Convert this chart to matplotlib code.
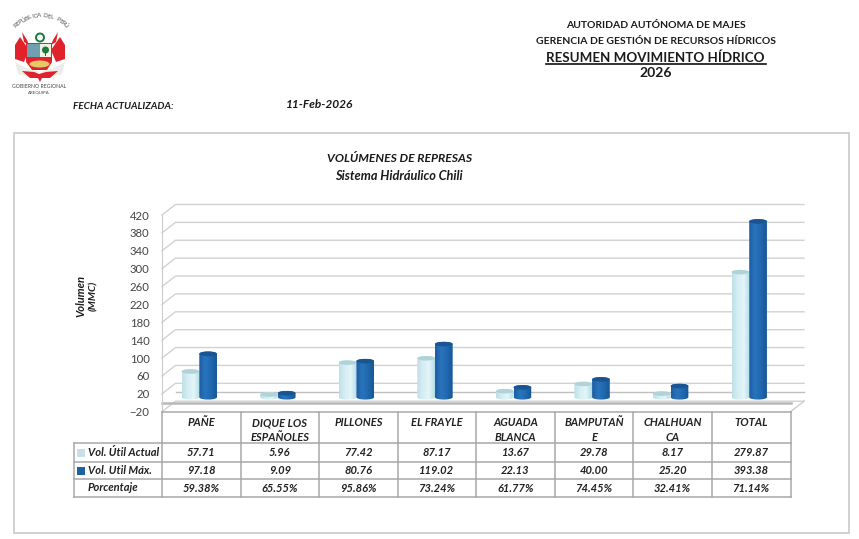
import numpy as np
import matplotlib
matplotlib.use('Agg')
import matplotlib.pyplot as plt
from matplotlib.patches import Polygon, Ellipse, PathPatch, Rectangle, Circle
from matplotlib.path import Path
from matplotlib.transforms import ScaledTranslation
from matplotlib.colors import LinearSegmentedColormap

plt.rcParams['font.family'] = ['Lato', 'DejaVu Sans']

categories = ['PAÑE', 'DIQUE LOS\nESPAÑOLES', 'PILLONES', 'EL FRAYLE', 'AGUADA\nBLANCA',
              'BAMPUTAÑ\nE', 'CHALHUAN\nCA', 'TOTAL']
vol_actual = [57.71, 5.96, 77.42, 87.17, 13.67, 29.78, 8.17, 279.87]
vol_max = [97.18, 9.09, 80.76, 119.02, 22.13, 40.00, 25.20, 393.38]
porcentaje = ['59.38%', '65.55%', '95.86%', '73.24%', '61.77%', '74.45%', '32.41%', '71.14%']
yticks = list(range(-20, 421, 40))

W, H = 859, 539
fig = plt.figure(figsize=(W / 100, H / 100), dpi=100)

# page overlay in pixel coordinates, for everything that is not the plot
page = fig.add_axes([0, 0, 1, 1], zorder=3)
page.set_xlim(0, W)
page.set_ylim(H, 0)
page.axis('off')
page.patch.set_alpha(0)

# plot area: front plane of the 3D box
x0, x1, y_top, y_bot = 162, 790.5, 215, 411.7
ax = fig.add_axes([x0 / W, 1 - y_bot / H, (x1 - x0) / W, (y_bot - y_top) / H], zorder=1)
ax.patch.set_alpha(0)
n = len(categories)
px_x = (x1 - x0) / n
px_y = (y_bot - y_top) / 440
depth_x = 13.5 / px_x
depth_y = 10.5 / px_y

for s in ['top', 'right', 'bottom']:
    ax.spines[s].set_visible(False)
ax.spines['left'].set_color('#cccccc')
ax.set_xticks([])
ax.set_yticks(yticks)
ax.tick_params(axis='y', length=0, pad=9, labelsize=8.2, labelcolor='#444444')

# back wall grid
for v in yticks:
    ax.plot([0, depth_x, n + depth_x], [v, v + depth_y, v + depth_y], color='#d2d2d2', lw=1.0,
            clip_on=False, zorder=1)
ax.plot([depth_x, n + depth_x], [depth_y, depth_y], color='#c0c0c0', lw=1.0, clip_on=False, zorder=1)
# floor
ax.plot([0, n], [0, 0], color='#b8b8b8', lw=1.8, clip_on=False, zorder=1)
ax.plot([n, n + depth_x], [-20, -20 + depth_y], color='#cccccc', lw=1.0, clip_on=False, zorder=1)

# cylinders
light = LinearSegmentedColormap.from_list('l', ['#bfe0e8', '#d6eef3', '#e4f5f8', '#b2dde6'])
dark = LinearSegmentedColormap.from_list('d', ['#1b5ea6', '#2a74ba', '#2068b0', '#175796'])
shift = ax.transData + ScaledTranslation(-2 / 100, 5.5 / 100, fig.dpi_scale_trans)
bw = 17.7 / px_x
eh = 2.3 / px_y


def cylinder(xl, value, cmap, top_color, z):
    t = np.linspace(0, np.pi, 30)
    xs = xl + bw / 2 + bw / 2 * np.cos(t)
    top = np.column_stack([xs, value + eh * np.sin(t)])
    bot = np.column_stack([xs[::-1], -eh * np.sin(t)])
    path = Path(np.vstack([top, bot, top[:1]]))
    body = PathPatch(path, transform=shift, fc='none', ec='none', zorder=z)
    ax.add_patch(body)
    grad = np.linspace(0, 1, 64).reshape(1, -1)
    im = ax.imshow(grad, cmap=cmap, extent=[xl, xl + bw, -eh, value + eh], aspect='auto',
                   interpolation='bilinear', transform=shift, zorder=z)
    im.set_clip_path(body)
    ax.add_patch(Ellipse((xl + bw / 2, value), bw, 2 * eh, transform=shift, fc=top_color, ec='none',
                         zorder=z + 0.1))


for i in range(n):
    c = i + 0.5
    cylinder(c - bw, vol_actual[i], light, '#b0d3da', 3)
    cylinder(c, vol_max[i], dark, '#195593', 4)
ax.set_xlim(0, n)
ax.set_ylim(-20, 420)

# frame around the chart
page.add_patch(Rectangle((14, 133), 835, 400, fc='none', ec='#cacaca', lw=1.2))

# table
tc = '#a8a8a8'
rows = [411.7, 443, 461.7, 479.3, 497]
col_x = [x0 + px_x * i for i in range(n + 1)]
page.plot([x0, x1], [rows[0], rows[0]], color=tc, lw=1.1)
for y in rows[1:]:
    page.plot([74, x1], [y, y], color=tc, lw=1.1)
for x in col_x:
    page.plot([x, x], [rows[0], rows[-1]], color=tc, lw=1.1)
page.plot([74, 74], [rows[1], rows[-1]], color=tc, lw=1.1)

cell = dict(ha='center', va='center', fontsize=8, fontweight='bold', style='italic', color='#222222')
for i in range(n):
    c = col_x[i] + px_x / 2
    parts = categories[i].split('\n')
    for j, p in enumerate(parts):
        page.text(c, 422.5 + 15 * j, p, **cell)
    page.text(c, 452.5, f'{vol_actual[i]:.2f}', **cell)
    page.text(c, 470.5, f'{vol_max[i]:.2f}', **cell)
    page.text(c, 488.5, porcentaje[i], **cell)

lab = dict(ha='left', va='center', fontsize=8, fontweight='bold', style='italic', color='#222222')
page.text(87.5, 452.5, 'Vol. Útil Actual', **lab)
page.text(87.5, 470, 'Vol. Util Máx.', **lab)
page.text(87.5, 487.5, 'Porcentaje', **lab)
page.add_patch(Rectangle((77, 449), 8, 8, fc='#c7dfe8', ec='none'))
page.add_patch(Rectangle((77, 466.5), 8, 8, fc='#1d639f', ec='none'))

# headers
hd = dict(ha='center', va='center', fontweight='bold', color='#1a1a1a')
page.text(656, 25, 'AUTORIDAD AUTÓNOMA DE MAJES', fontsize=7.45, **hd)
page.text(656.5, 41, 'GERENCIA DE GESTIÓN DE RECURSOS HÍDRICOS', fontsize=7.45, **hd)
page.text(655.5, 57.5, 'RESUMEN MOVIMIENTO HÍDRICO', fontsize=9.65, **hd)
page.plot([546, 766], [64, 64], color='#111111', lw=1.2)
page.text(656, 73, '2026', fontsize=10, **hd)
it = dict(va='center', fontweight='bold', style='italic', color='#1a1a1a')
page.text(73, 106.5, 'FECHA ACTUALIZADA:', fontsize=7.2, ha='left', **it)
page.text(286, 105, '11-Feb-2026', fontsize=8.6, ha='left', **it)
page.text(399.5, 158.5, 'VOLÚMENES DE REPRESAS', fontsize=8.75, ha='center', **it)
page.text(399, 176, 'Sistema Hidráulico Chili', fontsize=9.2, ha='center', **it)
page.text(81, 296, 'Volumen', fontsize=8, rotation=90, ha='center', **it)
page.text(94, 296, '(MMC)', fontsize=7.5, rotation=90, ha='center', **it)

# coat of arms, rough shapes
red = '#e0232b'
page.add_patch(Polygon([[15, 62], [18, 74], [34, 78], [39, 72], [26, 68]], fc='#ececea', ec='none'))
page.add_patch(Polygon([[65, 62], [62, 74], [46, 78], [41, 72], [54, 68]], fc='#ececea', ec='none'))
page.add_patch(Polygon([[20, 37], [15, 45], [15, 59], [24, 62], [29, 50]], fc=red, ec='none'))
page.add_patch(Polygon([[60, 37], [65, 45], [65, 59], [56, 62], [51, 50]], fc=red, ec='none'))
page.add_patch(Polygon([[22, 32], [27, 40], [29, 45], [24, 42]], fc=red, ec='none'))
page.add_patch(Polygon([[58, 32], [53, 40], [51, 45], [56, 42]], fc=red, ec='none'))
page.add_patch(Polygon([[22, 71], [34, 72], [39, 74], [46, 72], [58, 71], [50, 78], [42, 78], [40, 82], [38, 78], [30, 78]],
                       fc=red, ec='none'))
page.add_patch(Polygon([[26, 43], [52, 43], [52, 62], [47, 70], [32, 70], [26, 62]], fc=red, ec='none'))
page.add_patch(Rectangle((27, 44), 13, 13, fc='#6f9fb0', ec='none'))
page.add_patch(Rectangle((40, 44), 11, 13, fc='#f3f1e4', ec='none'))
page.add_patch(Circle((45.5, 50), 3.5, fc='#1e7a3c', ec='none'))
page.add_patch(Rectangle((44.8, 52), 1.4, 4, fc='#6b4a1e', ec='none'))
page.add_patch(Ellipse((39.5, 64), 20, 7, fc='#e9c66a', ec='none'))
page.add_patch(Circle((40, 37.5), 4, fc='none', ec='#1e7a3c', lw=1.4))

# arc text of the arms
arc_text = 'REPÚBLICA DEL PERÚ'
cx, cy, r = 40.5, 51.6, 36
angles = np.linspace(-44, 44, len(arc_text))
for ch, a in zip(arc_text, angles):
    ra = np.radians(a)
    page.text(cx + r * np.sin(ra), cy - r * np.cos(ra), ch, fontsize=4.6, rotation=-a, ha='center', va='center',
              color='#555555')
page.text(39.5, 87, 'GOBIERNO REGIONAL', fontsize=3.7, ha='center', va='center', color='#444444')
page.text(39, 92.3, 'AREQUIPA', fontsize=3.2, ha='center', va='center', color='#444444')

fig.savefig('out.png', dpi=100)
